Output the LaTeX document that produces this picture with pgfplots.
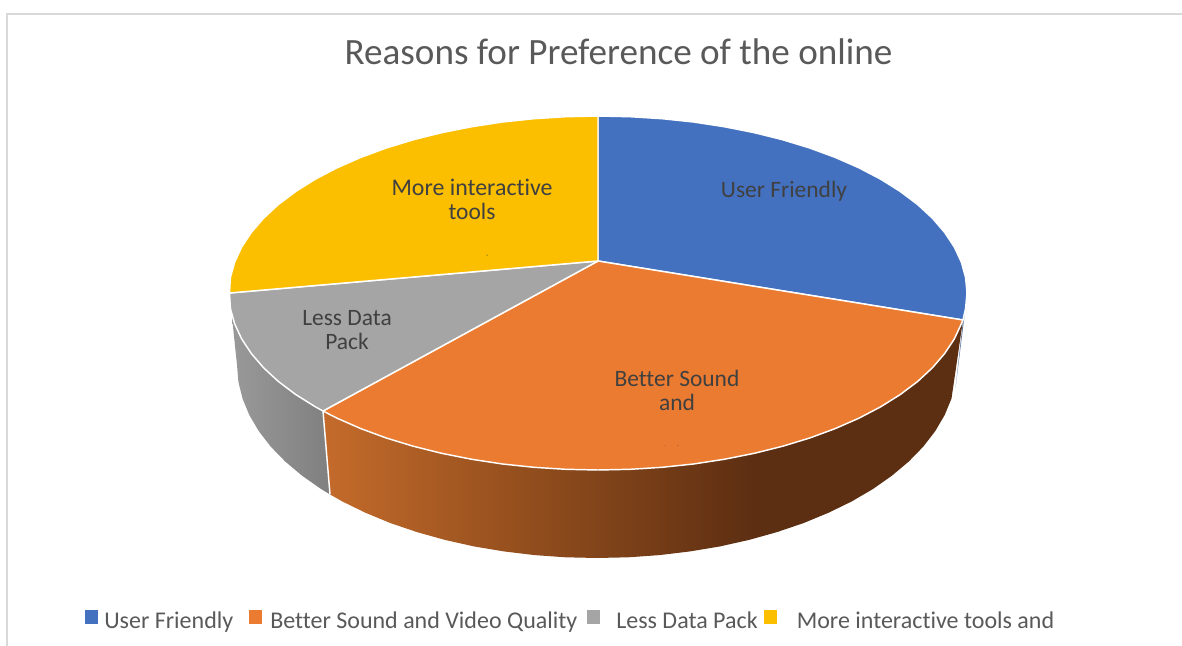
\documentclass[border=0pt]{standalone}
\usepackage{pgfplots}
\pgfplotsset{compat=1.18}
\usepackage{fontspec}
\setmainfont{Carlito}[Ligatures=NoCommon]
\definecolor{sliceblue}{HTML}{4371BF}
\definecolor{sliceorange}{HTML}{EB7B30}
\definecolor{slicegray}{HTML}{A5A5A5}
\definecolor{sliceyellow}{HTML}{FCBF00}
\definecolor{titlegray}{HTML}{595959}
\definecolor{labelgray}{HTML}{404040}
\definecolor{framegray}{HTML}{D9D9D9}
% side walls of the disc, lit from the left
\pgfdeclarehorizontalshading{orangewall}{100bp}{
  rgb(0bp)=(0.77,0.42,0.17);
  rgb(25bp)=(0.77,0.42,0.17);
  rgb(38.8bp)=(0.60,0.32,0.12);
  rgb(59bp)=(0.36,0.18,0.07);
  rgb(100bp)=(0.36,0.18,0.07)}
\pgfdeclarehorizontalshading{graywall}{100bp}{
  rgb(0bp)=(0.60,0.60,0.60);
  rgb(25bp)=(0.60,0.60,0.60);
  rgb(75bp)=(0.50,0.50,0.50);
  rgb(100bp)=(0.50,0.50,0.50)}
\begin{document}
\begin{tikzpicture}
\begin{axis}[
  scale only axis, width=886.5pt, height=484.5pt,
  xmin=0, xmax=1182, ymin=0, ymax=646, y dir=reverse,
  hide axis, clip=true,
]
% keeps the full canvas inside the bounding box
\addplot[draw=none, no markers] coordinates {(0,0) (1182,646)};
% chart frame
\addplot[framegray, line width=1.2pt, no markers] coordinates {(7,646) (7,14) (1182,14)};

% wall below the gray slice
\addplot[draw=none, shading=graywall, no markers] coordinates {
 (323,411) (232,317) (237,365) (238.4,381.8) (242.5,398.5) (249.3,415) (258.7,431)
 (270.7,446.6) (285.2,461.5) (302.1,475.7) (321.2,489.1) (330,494.4)} --cycle;
% wall below the orange slice
\addplot[draw=none, shading=orangewall, no markers] coordinates {
 (323,411) (330,494.4) (342.4,501.5) (365.6,512.8) (390.5,523.1) (417,532.1) (444.9,539.9)
 (473.9,546.4) (503.8,551.4) (534.5,555.1) (565.6,557.3) (597,558) (628.4,557.3) (659.5,555.1)
 (690.2,551.4) (720.1,546.4) (749.1,539.9) (777,532.1) (803.5,523.1) (828.4,512.8) (851.6,501.5)
 (872.8,489.1) (891.9,475.7) (908.8,461.5) (923.3,446.6) (935.3,431) (944.7,415) (951.5,398.5)
 (963,320)} --cycle;
% narrow edge of the blue slice
\addplot[draw=none, fill=sliceblue!45!gray, no markers] coordinates {
 (965,312) (963,320) (955.5,388)} --cycle;
% divider between the two walls
\addplot[white, line width=1.1pt, no markers] coordinates {(323,411) (330,494.4)};

% top faces
\addplot[draw=white, line width=1.1pt, line join=round, fill=sliceblue, no markers] coordinates {
 (598,261) (598,116) (630.2,116.7) (662.1,118.7) (693.5,122) (724.2,126.7) (753.9,132.6)
 (782.5,139.7) (809.7,148) (835.2,157.4) (858.9,167.8) (880.7,179.2) (900.3,191.5) (917.6,204.5)
 (932.4,218.2) (944.7,232.5) (954.4,247.2) (961.4,262.3) (965.6,277.6) (967,293) (965.6,308.4)
 (963,320)} --cycle;
\addplot[draw=white, line width=1.1pt, line join=round, fill=sliceorange, no markers] coordinates {
 (598,261) (963,320) (961.4,323.7) (954.4,338.8) (944.7,353.5) (932.4,367.8) (917.6,381.5)
 (900.3,394.5) (880.7,406.8) (858.9,418.2) (835.2,428.6) (809.7,438) (782.5,446.3) (753.9,453.4)
 (724.2,459.3) (693.5,464) (662.1,467.3) (630.2,469.3) (598,470) (565.8,469.3) (533.9,467.3)
 (502.5,464) (471.8,459.3) (442.1,453.4) (413.5,446.3) (386.3,438) (360.8,428.6) (337.1,418.2)
 (323,411)} --cycle;
\addplot[draw=white, line width=1.1pt, line join=round, fill=slicegray, no markers] coordinates {
 (598,261) (323,411) (315.3,406.8) (295.7,394.5) (278.4,381.5) (263.6,367.8) (251.3,353.5)
 (241.6,338.8) (234.6,323.7) (230.4,308.4) (229.5,293)} --cycle;
\addplot[draw=white, line width=1.1pt, line join=round, fill=sliceyellow, no markers] coordinates {
 (598,261) (229.5,293) (230.4,277.6) (234.6,262.3) (241.6,247.2) (251.3,232.5) (263.6,218.2)
 (278.4,204.5) (295.7,191.5) (315.3,179.2) (337.1,167.8) (360.8,157.4) (386.3,148) (413.5,139.7)
 (442.1,132.6) (471.8,126.7) (502.5,122) (533.9,118.7) (565.8,116.7) (598,116)} --cycle;

% legend keys
\addplot[draw=none, fill=sliceblue, no markers] coordinates {(85,610) (98,610) (98,624) (85,624)} --cycle;
\addplot[draw=none, fill=sliceorange, no markers] coordinates {(249,610) (262,610) (262,624) (249,624)} --cycle;
\addplot[draw=none, fill=slicegray, no markers] coordinates {(587,610) (600,610) (600,624) (587,624)} --cycle;
\addplot[draw=none, fill=sliceyellow, no markers] coordinates {(764,610) (777,610) (777,624) (764,624)} --cycle;

% title
\node[anchor=base, text=titlegray, font=\fontsize{27.85}{32}\selectfont, inner sep=0pt]
  at (axis cs:618.5,64) {Reasons for Preference of the online};

% slice labels
\node[text=labelgray, font=\fontsize{17.6}{18}\selectfont, anchor=base, inner sep=0pt] at (axis cs:784,197) {User Friendly};
\node[text=labelgray, font=\fontsize{17.6}{18}\selectfont, anchor=base, inner sep=0pt] at (axis cs:677,386.5) {Better Sound};
\node[text=labelgray, font=\fontsize{17.6}{18}\selectfont, anchor=base, inner sep=0pt] at (axis cs:677,410.5) {and};
\node[text=labelgray, font=\fontsize{17.6}{18}\selectfont, anchor=base, inner sep=0pt] at (axis cs:347,325) {Less Data};
\node[text=labelgray, font=\fontsize{17.6}{18}\selectfont, anchor=base, inner sep=0pt] at (axis cs:347,349) {Pack};
\node[text=labelgray, font=\fontsize{17.9}{18}\selectfont, anchor=base, inner sep=0pt] at (axis cs:472,195.5) {More interactive};
\node[text=labelgray, font=\fontsize{17.6}{18}\selectfont, anchor=base, inner sep=0pt] at (axis cs:472,219.5) {tools};
% clipped remainder of the wrapped labels
\node[text=labelgray, font=\fontsize{5}{6}\selectfont, anchor=center, inner sep=0pt] at (axis cs:487.5,256.5) {-};
\node[text=labelgray, font=\fontsize{3}{4}\selectfont, anchor=center, inner sep=0pt] at (axis cs:665,447) {-};
\node[text=labelgray, font=\fontsize{4}{5}\selectfont, anchor=center, inner sep=0pt] at (axis cs:678,447) {-};

% legend entries
\node[text=titlegray, font=\fontsize{18}{20}\selectfont, anchor=base west, inner sep=0pt] at (axis cs:104,628) {User Friendly};
\node[text=titlegray, font=\fontsize{18}{20}\selectfont, anchor=base west, inner sep=0pt] at (axis cs:270,628) {Better Sound and Video Quality};
\node[text=titlegray, font=\fontsize{18}{20}\selectfont, anchor=base west, inner sep=0pt] at (axis cs:616,628) {Less Data Pack};
\node[text=titlegray, font=\fontsize{18}{20}\selectfont, anchor=base west, inner sep=0pt] at (axis cs:796.5,628) {More interactive tools and};
\end{axis}
\end{tikzpicture}
\end{document}
